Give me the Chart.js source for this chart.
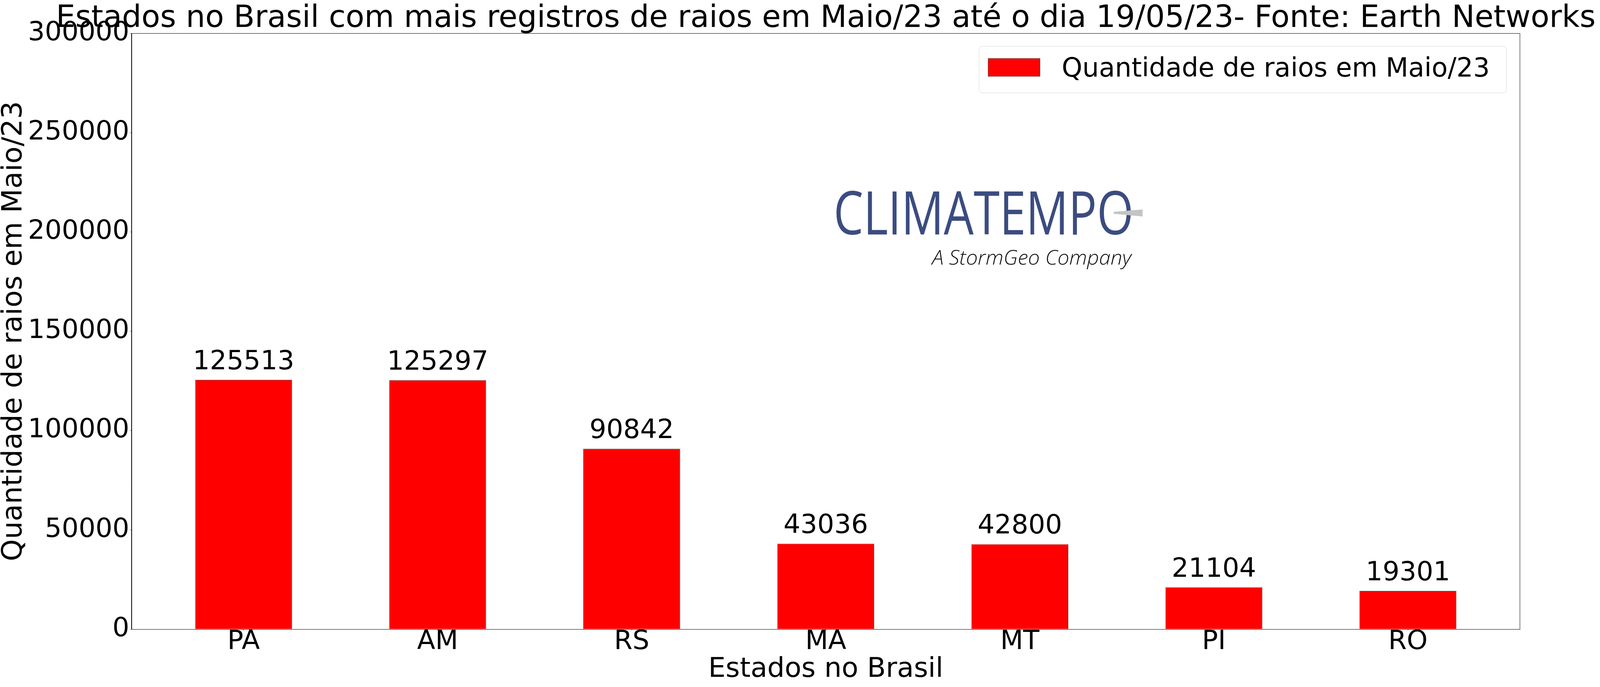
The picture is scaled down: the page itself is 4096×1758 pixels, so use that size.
<!DOCTYPE html>
<html>
<head>
<meta charset="utf-8">
<script src="https://cdn.jsdelivr.net/npm/chart.js@4.4.0/dist/chart.umd.min.js"></script>
<style>
  html, body { margin: 0; padding: 0; background: #fff; overflow: hidden; }
</style>
</head>
<body>
<canvas id="myChart" width="4096" height="1758"></canvas>
<script>

const states = ['PA', 'AM', 'RS', 'MA', 'MT', 'PI', 'RO'];
const strikes = [125513, 125297, 90842, 43036, 42800, 21104, 19301];
const yTicks = [0, 50000, 100000, 150000, 200000, 250000, 300000];

const titleText = 'Estados no Brasil com mais registros de raios em Maio/23 até o dia 19/05/23- Fonte: Earth Networks';
const seriesName = 'Quantidade de raios em Maio/23';
const xTitle = 'Estados no Brasil';
const yTitle = 'Quantidade de raios em Maio/23';
const logoMain = 'CLIMATEMPO';
const logoSub = 'A StormGeo Company';

const FONT = '"DejaVu Sans", sans-serif';

// text squeezed / stretched to a given width (the logo)
function fitText(ctx, text, x, y, width) {
  let w = ctx.measureText(text).width;
  ctx.save();
  ctx.translate(x, y);
  ctx.scale(width / w, 1);
  ctx.fillText(text, 0, 0);
  ctx.restore();
}

let extras = {
  id: 'extras',
  afterDraw(chart) {
    let ctx = chart.ctx;
    let area = chart.chartArea;

    // frame round the axes
    ctx.save();
    ctx.strokeStyle = '#000';
    ctx.lineWidth = 1;
    ctx.strokeRect(area.left - 0.5, area.top + 0.5, area.right - area.left + 0.5, area.bottom - area.top);

    // title
    ctx.fillStyle = '#000';
    ctx.font = '78.4px ' + FONT;
    ctx.textAlign = 'center';
    ctx.textBaseline = 'alphabetic';
    ctx.fillText(titleText, (area.left + area.right) / 2, 69);

    // value on top of each bar
    ctx.font = '68px ' + FONT;
    let meta = chart.getDatasetMeta(0);
    meta.data.forEach((bar, i) => {
      ctx.fillText(String(strikes[i]), bar.x, bar.y - 27);
    });

    // legend
    let lx = 2506, ly = 118, lw = 1350, lh = 119;
    ctx.beginPath();
    ctx.roundRect(lx + 0.5, ly + 0.5, lw, lh, 8);
    ctx.fillStyle = 'rgba(255,255,255,0.8)';
    ctx.fill();
    ctx.strokeStyle = '#d6d6d6';
    ctx.stroke();
    ctx.fillStyle = '#ff0000';
    ctx.fillRect(2529, 149, 134, 47);
    ctx.strokeStyle = '#555';
    ctx.strokeRect(2529.5, 149.5, 133, 46);
    ctx.fillStyle = '#000';
    ctx.textAlign = 'left';
    ctx.font = '67px ' + FONT;
    ctx.fillText(seriesName, 2718, 196);

    // logo
    ctx.fillStyle = '#3b4c80';
    ctx.font = '500 153px "Open Sans", sans-serif';
    fitText(ctx, logoMain, 2134, 600, 768);
    ctx.fillStyle = '#c4c4c4';
    ctx.beginPath();
    ctx.moveTo(2851, 542);
    ctx.lineTo(2925, 536);
    ctx.lineTo(2925, 554);
    ctx.lineTo(2851, 547);
    ctx.closePath();
    ctx.fill();
    ctx.fillStyle = '#111';
    ctx.font = 'italic 300 51px "Open Sans", sans-serif';
    fitText(ctx, logoSub, 2386, 677, 510);
    ctx.restore();
  }
};

let ctx = document.getElementById('myChart').getContext('2d');
let chart = new Chart(ctx, {
  type: 'bar',
  data: {
    datasets: [{
      label: seriesName,
      data: states.map((s, i) => ({ x: i, y: strikes[i] })),
      backgroundColor: '#ff0000',
      borderColor: 'rgba(85,85,85,0.9)',
      borderWidth: 1,
      categoryPercentage: 1,
      barPercentage: 0.5
    }]
  },
  options: {
    responsive: false,
    animation: false,
    devicePixelRatio: 1,
    layout: { padding: { top: 85, right: 205, left: 0, bottom: 0 } },
    plugins: {
      legend: { display: false },
      title: { display: false },
      tooltip: { enabled: false }
    },
    scales: {
      x: {
        type: 'linear',
        min: -0.577,
        max: 6.577,
        offset: false,
        afterBuildTicks: (s) => { s.ticks = states.map((st, i) => ({ value: i })); },
        afterFit: (s) => { s.height = 148; },
        ticks: {
          callback: (v) => states[v],
          autoSkip: false,
          maxRotation: 0,
          padding: 0,
          color: '#000',
          font: { family: FONT, size: 68, lineHeight: 0.9 }
        },
        grid: { display: true, offset: false, drawOnChartArea: false, drawTicks: true, tickLength: 3, color: '#000', lineWidth: 1 },
        border: { display: true, color: '#000', width: 1 },
        title: {
          display: true,
          text: xTitle,
          color: '#000',
          font: { family: FONT, size: 70, lineHeight: 1 },
          padding: { top: 0, bottom: 9 }
        }
      },
      y: {
        min: 0,
        max: 300000,
        afterBuildTicks: (s) => { s.ticks = yTicks.map(v => ({ value: v })); },
        afterFit: (s) => { s.width = 337; },
        ticks: {
          callback: (v) => String(v),
          padding: 3,
          color: '#000',
          font: { family: FONT, size: 68 }
        },
        grid: { display: true, drawOnChartArea: false, drawTicks: true, tickLength: 3, color: '#000', lineWidth: 1 },
        border: { display: true, color: '#000', width: 1 },
        title: {
          display: true,
          text: yTitle,
          color: '#000',
          font: { family: FONT, size: 72, lineHeight: 1 },
          padding: { top: 0, bottom: 0 }
        }
      }
    }
  },
  plugins: [extras]
});
</script>
</body>
</html>
